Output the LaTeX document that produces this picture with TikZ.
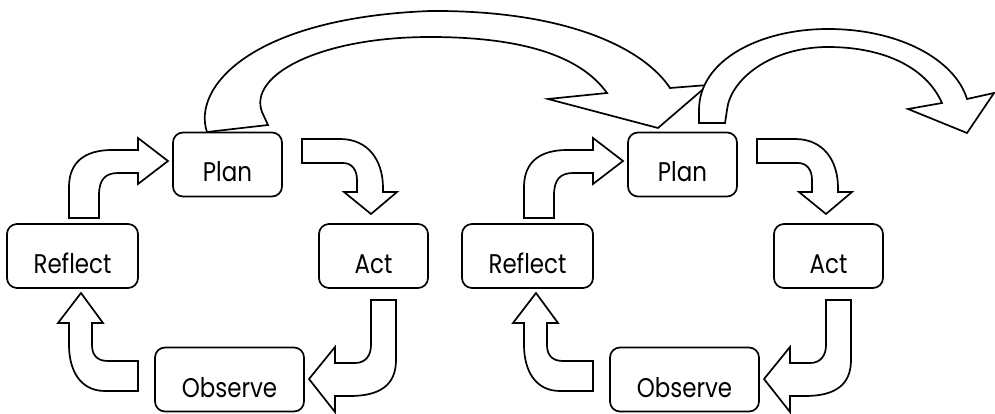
\documentclass[tikz,border=0pt]{standalone}
\usepackage{fontspec}
\setmainfont[FakeStretch=0.85]{Poppins}
\newcommand\cyclediagram[1]{%
  % Reflect -> Plan
  \draw[blockarrow] (69,218) -- (69,187) .. controls (69,162) and (85,150) .. (112,150)
    -- (138,150) -- (138,138) -- (168,161) -- (138,184) -- (138,173) -- (118,173)
    .. controls (105,173) and (99,180) .. (99,195) -- (99,218) -- cycle;
  % Plan -> Act
  \draw[blockarrow] (302,139) -- (340,139) .. controls (368,139) and (383,160) .. (383,188)
    -- (383,192) -- (397,192) -- (371,214) -- (344,192) -- (357,192) -- (357,180)
    .. controls (357,170) and (352,163) .. (343,163) -- (302,163) -- cycle;
  % Act -> Observe
  \draw[blockarrow] (396,300) -- (396,360) .. controls (396,385) and (380,396) .. (350,396)
    -- (335,396) -- (335,412) -- (309,379) -- (335,347) -- (335,363) -- (355,363)
    .. controls (366,363) and (371,355) .. (371,345) -- (371,300) -- cycle;
  % Observe -> Reflect
  \draw[blockarrow] (138,391) -- (105,391) .. controls (80,391) and (69,370) .. (69,345)
    -- (69,323) -- (58,323) -- (81,293) -- (103,323) -- (92,323) -- (92,345)
    .. controls (92,355) and (97,361) .. (108,361) -- (138,361) -- cycle;
  \node[box, minimum width=109pt] (plan#1) at (227.5,164.5) {Plan};
  \node[box, minimum width=131pt] (refl#1) at (72.5,256) {Reflect};
  \node[box, minimum width=109pt] (act#1) at (373.5,256) {Act};
  \node[box, minimum width=149pt] (obs#1) at (229.5,379.5) {Observe};
}
\begin{document}
\begin{tikzpicture}[x=1pt,y=-1pt,line width=1.7pt,
  box/.style={draw, rounded corners=10pt, minimum height=64pt, inner sep=0pt,
    text height=35pt, text depth=0pt, font=\fontsize{27}{30}\selectfont},
  blockarrow/.style={draw, fill=white, line join=miter}]
\useasboundingbox (0,0) rectangle (995,414);
% big arrow from first cycle to second cycle
\draw[blockarrow] (207,132) .. controls (192,88) and (250,18) .. (430,11)
  .. controls (570,10) and (645,50) .. (670,88)
  -- (708,85) -- (658,128) -- (548,99) -- (607,93)
  .. controls (580,55) and (520,37) .. (430,37)
  .. controls (320,37) and (248,75) .. (262,112)
  -- (268,125) -- cycle;
% big arrow leaving second cycle
\draw[blockarrow] (699,123) -- (699,110) .. controls (699,60) and (760,29) .. (828,29)
  .. controls (900,29) and (955,60) .. (967,99)
  -- (994,93) -- (967,133) -- (908,109) -- (942,103)
  .. controls (925,65) and (880,47) .. (828,47)
  .. controls (770,47) and (730,80) .. (727,110) -- (725,123) -- cycle;
\cyclediagram{1}
\begin{scope}[xshift=455pt]
\cyclediagram{2}
\end{scope}
\end{tikzpicture}
\end{document}
